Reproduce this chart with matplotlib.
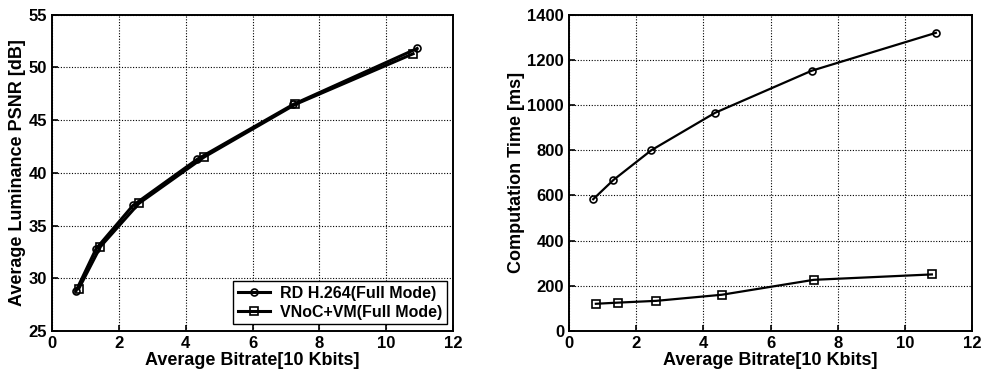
import numpy as np
import matplotlib
matplotlib.use("Agg")
import matplotlib.pyplot as plt

plt.rcParams['font.family'] = ['Liberation Sans', 'DejaVu Sans']
plt.rcParams['font.weight'] = 'bold'

# PSNR data (left)
rd_x_psnr = [0.72, 1.32, 2.42, 4.35, 7.22, 10.92]
rd_psnr = [28.8, 32.8, 36.9, 41.3, 46.5, 51.8]
vm_x_psnr = [0.80, 1.45, 2.60, 4.55, 7.28, 10.80]
vm_psnr = [29.0, 33.0, 37.1, 41.5, 46.5, 51.3]

# computation time data (right)
rd_x_time = [0.72, 1.32, 2.45, 4.35, 7.22, 10.92]
rd_time = [583, 668, 800, 966, 1152, 1320]
vm_x_time = [0.80, 1.45, 2.60, 4.55, 7.28, 10.80]
vm_time = [120, 125, 133, 160, 226, 250]

labels = ['RD H.264(Full Mode)', 'VNoC+VM(Full Mode)']
xticks = [0, 2, 4, 6, 8, 10, 12]

fig = plt.figure(figsize=(9.81, 3.79), dpi=100)
ax1 = fig.add_axes([0.053, 0.127, 0.409, 0.834])
ax2 = fig.add_axes([0.580, 0.127, 0.411, 0.834])

def style(ax):
    ax.grid(True, linestyle=(0, (1, 1.5)), color='black', linewidth=0.8)
    ax.tick_params(direction='in', labelsize=12, length=4, width=1.2)
    for s in ax.spines.values():
        s.set_linewidth(1.4)
    ax.set_xlim(0, 12)
    ax.set_xticks(xticks)
    ax.set_xlabel('Average Bitrate[10 Kbits]', fontsize=13, fontweight='bold', labelpad=1)
    for lab in ax.get_xticklabels() + ax.get_yticklabels():
        lab.set_fontweight('bold')

# left chart
ax1.plot(rd_x_psnr, rd_psnr, '-o', color='black', linewidth=2.2, markersize=5,
         markerfacecolor='none', markeredgewidth=1.2, label=labels[0])
ax1.plot(vm_x_psnr, vm_psnr, '-s', color='black', linewidth=2.2, markersize=5.5,
         markerfacecolor='none', markeredgewidth=1.2, label=labels[1])
ax1.set_ylim(25, 55)
ax1.set_yticks([25, 30, 35, 40, 45, 50, 55])
ax1.set_ylabel('Average Luminance PSNR [dB]', fontsize=13, fontweight='bold', labelpad=2)
style(ax1)
leg = ax1.legend(loc='lower right', fontsize=11.5, frameon=True, fancybox=False,
                 edgecolor='black', framealpha=1, borderpad=0.3, labelspacing=0.25,
                 handlelength=2.0, handletextpad=0.6, borderaxespad=0.4)
leg.get_frame().set_linewidth(1.0)

# right chart
ax2.plot(rd_x_time, rd_time, '-o', color='black', linewidth=1.6, markersize=5,
         markerfacecolor='none', markeredgewidth=1.2)
ax2.plot(vm_x_time, vm_time, '-s', color='black', linewidth=1.6, markersize=5.5,
         markerfacecolor='none', markeredgewidth=1.2)
ax2.set_ylim(0, 1400)
ax2.set_yticks(np.arange(0, 1401, 200))
ax2.set_ylabel('Computation Time [ms]', fontsize=13, fontweight='bold', labelpad=2)
style(ax2)

fig.savefig('out.png', dpi=100)
